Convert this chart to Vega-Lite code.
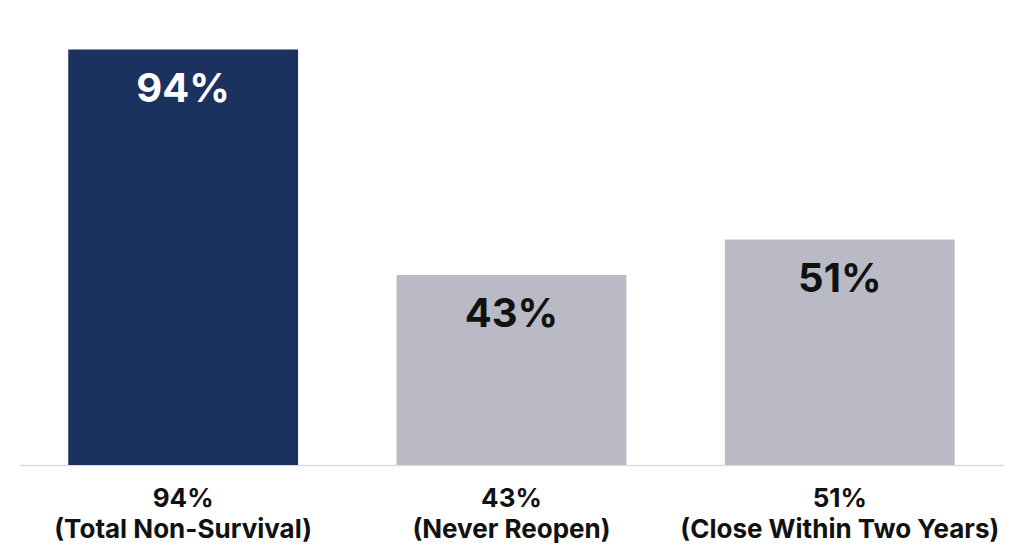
{
  "$schema": "https://vega.github.io/schema/vega-lite/v6.json",
  "width": 985,
  "height": 442,
  "autosize": {"type": "none"},
  "padding": {"left": 19, "top": 23, "right": 20, "bottom": 94},
  "background": "#ffffff",
  "config": {"view": {"stroke": null}, "font": "Inter"},
  "data": {
    "values": [
      {"category": "94%|(Total Non-Survival)", "value": 94, "label": "94%", "highlight": "yes"},
      {"category": "43%|(Never Reopen)", "value": 43, "label": "43%", "highlight": "no"},
      {"category": "51%|(Close Within Two Years)", "value": 51, "label": "51%", "highlight": "no"}
    ]
  },
  "encoding": {
    "x": {
      "field": "category",
      "type": "nominal",
      "sort": null,
      "scale": {"paddingInner": 0.3, "paddingOuter": 0.15},
      "axis": {
        "title": null,
        "labelAngle": 0,
        "labelExpr": "split(datum.label, '|')",
        "labelFont": "Inter",
        "labelFontWeight": "bold",
        "labelFontSize": 26,
        "labelColor": "#111111",
        "labelLineHeight": 31,
        "labelPadding": 20,
        "labelLimit": 0,
        "labelOverlap": false,
        "ticks": false,
        "domainColor": "#dcdce2",
        "domainWidth": 1.5
      }
    },
    "y": {
      "field": "value",
      "type": "quantitative",
      "scale": {"domain": [0, 100]},
      "axis": null
    }
  },
  "layer": [
    {
      "mark": {"type": "bar"},
      "encoding": {
        "color": {
          "field": "highlight",
          "type": "nominal",
          "scale": {"domain": ["yes", "no"], "range": ["#1b315e", "#b9bac5"]},
          "legend": null
        }
      }
    },
    {
      "mark": {"type": "text", "fontSize": 40, "fontWeight": "bold", "font": "Inter", "dy": 40, "baseline": "middle"},
      "encoding": {
        "text": {"field": "label"},
        "color": {
          "condition": {"test": "datum.highlight == 'yes'", "value": "#ffffff"},
          "value": "#111111"
        }
      }
    }
  ]
}
